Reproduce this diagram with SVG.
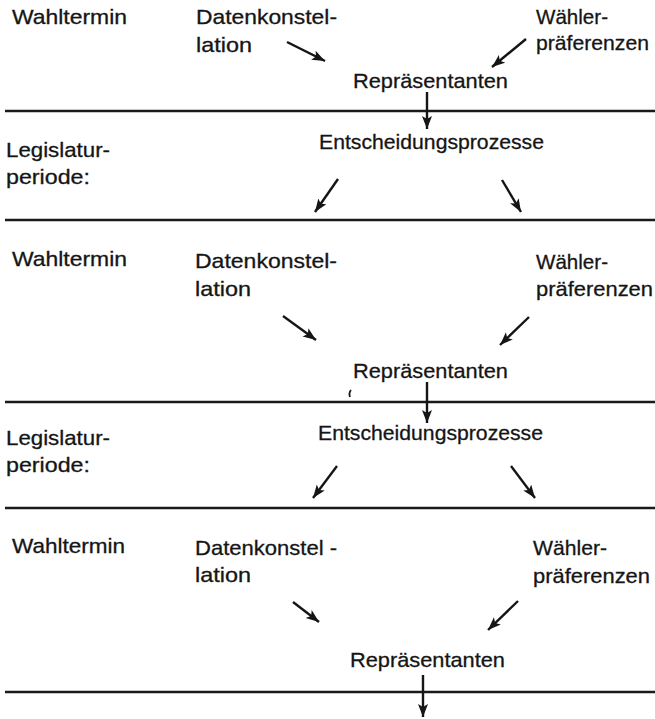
<svg xmlns="http://www.w3.org/2000/svg" width="655" height="719" viewBox="0 0 655 719">
<style>
text{font-family:"Liberation Sans",Arial,sans-serif;font-size:21px;fill:#151515;stroke:#151515;stroke-width:0.3}
.sep{stroke:#1a1a1a;stroke-width:2.3;fill:none}
.arr{stroke:#151515;stroke-width:2.4;fill:none;marker-end:url(#ah)}
</style>
<defs>
<marker id="ah" markerUnits="userSpaceOnUse" markerWidth="16" markerHeight="12" refX="13" refY="5" orient="auto">
<path d="M0,0 L13,5 L0,10 L3,5 z" fill="#151515"/>
</marker>
</defs>
<rect width="655" height="719" fill="#fff"/>
<g id="separators">
<line class="sep" x1="5" y1="111" x2="655" y2="111"/>
<line class="sep" x1="5" y1="220" x2="655" y2="220"/>
<line class="sep" x1="5" y1="402" x2="655" y2="402"/>
<line class="sep" x1="5" y1="508" x2="655" y2="508"/>
<line class="sep" x1="5" y1="692" x2="655" y2="692"/>
</g>
<g id="label-wahltermin-1"><text x="12" y="24" textLength="115" lengthAdjust="spacingAndGlyphs">Wahltermin</text></g>
<g id="node-daten-1"><text x="196" y="24" textLength="141" lengthAdjust="spacingAndGlyphs">Datenkonstel-</text><text x="196" y="52" textLength="56" lengthAdjust="spacingAndGlyphs">lation</text></g>
<g id="node-waehler-1"><text x="536" y="24" textLength="72" lengthAdjust="spacingAndGlyphs">Wähler-</text><text x="536" y="50" textLength="113" lengthAdjust="spacingAndGlyphs">präferenzen</text></g>
<g id="node-repr-1"><text x="353" y="88" textLength="155" lengthAdjust="spacingAndGlyphs">Repräsentanten</text></g>
<g id="label-legislatur-1"><text x="6" y="157" textLength="104" lengthAdjust="spacingAndGlyphs">Legislatur-</text><text x="6" y="184" textLength="84" lengthAdjust="spacingAndGlyphs">periode:</text></g>
<g id="node-entsch-1"><text x="319" y="149" textLength="225" lengthAdjust="spacingAndGlyphs">Entscheidungsprozesse</text></g>
<g id="label-wahltermin-2"><text x="12" y="266" textLength="115" lengthAdjust="spacingAndGlyphs">Wahltermin</text></g>
<g id="node-daten-2"><text x="195" y="268" textLength="142" lengthAdjust="spacingAndGlyphs">Datenkonstel-</text><text x="195" y="296" textLength="56" lengthAdjust="spacingAndGlyphs">lation</text></g>
<g id="node-waehler-2"><text x="536" y="269" textLength="72" lengthAdjust="spacingAndGlyphs">Wähler-</text><text x="536" y="296" textLength="117" lengthAdjust="spacingAndGlyphs">präferenzen</text></g>
<g id="node-repr-2"><text x="353" y="378" textLength="155" lengthAdjust="spacingAndGlyphs">Repräsentanten</text></g>
<g id="label-legislatur-2"><text x="6" y="445" textLength="104" lengthAdjust="spacingAndGlyphs">Legislatur-</text><text x="6" y="472" textLength="84" lengthAdjust="spacingAndGlyphs">periode:</text></g>
<g id="node-entsch-2"><text x="318" y="440" textLength="225" lengthAdjust="spacingAndGlyphs">Entscheidungsprozesse</text></g>
<g id="label-wahltermin-3"><text x="12" y="553" textLength="113" lengthAdjust="spacingAndGlyphs">Wahltermin</text></g>
<g id="node-daten-3"><text x="195" y="555" textLength="142" lengthAdjust="spacingAndGlyphs">Datenkonstel -</text><text x="195" y="582" textLength="56" lengthAdjust="spacingAndGlyphs">lation</text></g>
<g id="node-waehler-3"><text x="533" y="555" textLength="74" lengthAdjust="spacingAndGlyphs">Wähler-</text><text x="533" y="583" textLength="117" lengthAdjust="spacingAndGlyphs">präferenzen</text></g>
<g id="node-repr-3"><text x="350" y="667" textLength="155" lengthAdjust="spacingAndGlyphs">Repräsentanten</text></g>
<g id="connectors">
<line class="arr" x1="287" y1="42" x2="325" y2="61"/>
<line class="arr" x1="526" y1="39" x2="492" y2="67"/>
<line class="arr" x1="427" y1="92" x2="427" y2="129"/>
<line class="arr" x1="338" y1="179" x2="315" y2="212"/>
<line class="arr" x1="502" y1="180" x2="521" y2="212"/>
<line class="arr" x1="283" y1="316" x2="316" y2="340"/>
<line class="arr" x1="529" y1="317" x2="500" y2="345"/>
<line class="arr" x1="427" y1="382" x2="427" y2="423"/>
<line class="arr" x1="337" y1="466" x2="313" y2="498"/>
<line class="arr" x1="511" y1="466" x2="535" y2="498"/>
<line class="arr" x1="293" y1="602" x2="319" y2="622"/>
<line class="arr" x1="518" y1="601" x2="488" y2="630"/>
<line class="arr" x1="423" y1="675" x2="423" y2="717"/>
</g>
<path d="M351,390 Q348.5,393 350,397" stroke="#151515" stroke-width="1.8" fill="none"/>
</svg>
